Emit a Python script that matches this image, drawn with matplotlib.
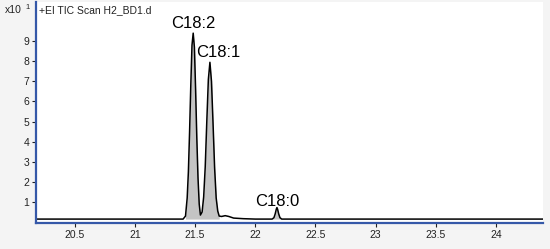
import matplotlib
matplotlib.use("Agg")
import matplotlib.pyplot as plt

plt.rcParams['font.family'] = ['Liberation Sans', 'DejaVu Sans']

# acquisition time (min) and counts (x10^1)
rt = [20.18, 21.40, 21.42, 21.434, 21.444, 21.454, 21.464, 21.474, 21.484, 21.494,
      21.504, 21.514, 21.524, 21.534, 21.544, 21.558, 21.571, 21.584, 21.597, 21.610,
      21.623, 21.636, 21.649, 21.662, 21.675, 21.688, 21.70, 21.72, 21.75, 21.78,
      21.82, 21.90, 22.00, 22.14, 22.155, 22.165, 22.175, 22.18, 22.185, 22.195,
      22.205, 22.22, 24.40]
counts = [0.15, 0.15, 0.3, 1.2, 2.5, 4.5, 6.8, 8.8, 9.4, 8.7,
          6.6, 4.2, 2.2, 0.9, 0.35, 0.5, 1.25, 2.75, 5.0, 7.1,
          7.95, 7.0, 4.9, 2.7, 1.2, 0.55, 0.3, 0.28, 0.32, 0.28,
          0.2, 0.17, 0.15, 0.15, 0.22, 0.4, 0.65, 0.72, 0.65, 0.4,
          0.22, 0.15, 0.15]
baseline = 0.15

# integrated peak windows
peak_windows = [(21.42, 21.544), (21.544, 21.70), (22.14, 22.22)]

peak_names = ['C18:2', 'C18:1', 'C18:0']
label_x = [21.484, 21.69, 22.18]
label_y = [9.5, 8.05, 0.65]

x_ticks = [20.5, 21, 21.5, 22, 22.5, 23, 23.5, 24]
x_tick_labels = ['20.5', '21', '21.5', '22', '22.5', '23', '23.5', '24']
y_ticks = [1, 2, 3, 4, 5, 6, 7, 8, 9]

fig = plt.figure(figsize=(5.5, 2.49), dpi=100, facecolor='#f4f4f4')
ax = fig.add_axes([0.066, 0.104, 0.921, 0.888])
ax.set_facecolor('white')

for lo, hi in peak_windows:
    xs = [x for x in rt if lo <= x <= hi]
    ys = [y for x, y in zip(rt, counts) if lo <= x <= hi]
    ax.fill_between(xs, ys, baseline, color='#c4c4c4', lw=0)

ax.plot(rt, counts, color='black', lw=1.1)

for name, lx, ly in zip(peak_names, label_x, label_y):
    ax.text(lx, ly, name, ha='center', va='bottom', fontsize=12, color='black')

ax.set_xlim(20.18, 24.39)
ax.set_ylim(-0.05, 10.95)
ax.set_xticks(x_ticks)
ax.set_xticklabels(x_tick_labels)
ax.set_yticks(y_ticks)
ax.tick_params(labelsize=7.5, colors='#222222', length=3, width=0.8, pad=2)

for side in ['top', 'right']:
    ax.spines[side].set_visible(False)
for side in ['left', 'bottom']:
    ax.spines[side].set_color('#3558a8')
    ax.spines[side].set_linewidth(1.6)

ax.text(0.006, 0.985, '+EI TIC Scan H2_BD1.d', transform=ax.transAxes,
        ha='left', va='top', fontsize=7.5, color='#222222')
fig.text(0.008, 0.958, 'x10', ha='left', va='center', fontsize=7.5, color='#222222')
fig.text(0.047, 0.968, '1', ha='left', va='center', fontsize=5.5, color='#222222')

fig.savefig('out.png', dpi=100, facecolor=fig.get_facecolor())
